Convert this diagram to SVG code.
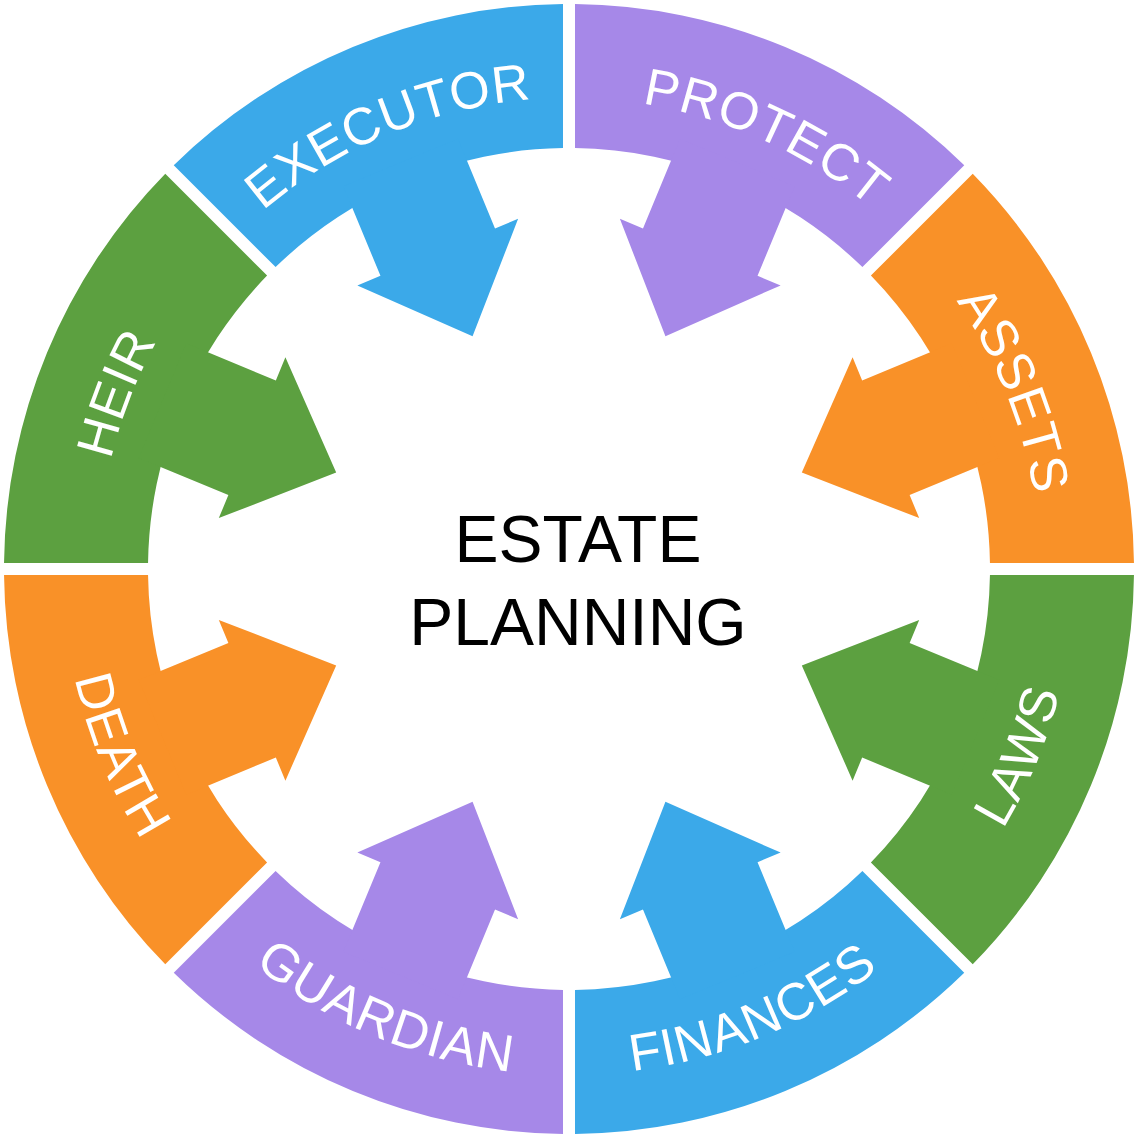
<svg xmlns="http://www.w3.org/2000/svg" xmlns:xlink="http://www.w3.org/1999/xlink" width="1140" height="1140" viewBox="0 0 1140 1140">
<style>
.lbl{font-family:"Liberation Sans",Arial,sans-serif;font-size:52px;fill:#ffffff;letter-spacing:1px}
.ctr{font-family:"Liberation Sans",Arial,sans-serif;font-size:66px;fill:#000000;text-anchor:middle}
.purple{fill:#A688E8}.orange{fill:#F99128}.green{fill:#5CA040}.blue{fill:#3BA9E9}
</style>
<defs>
<path id="seg" d="M575 4.03 A565 565 0 0 1 964.25 165.27 L862.42 267.10 A421 421 0 0 0 575 148.04 Z"/>
<polygon id="arrow" points="665.44,336.18 780.64,285.40 757.54,275.84 794.66,186.22 680.10,138.76 642.98,228.38 619.88,218.82"/>
<path id="arcCW" d="M487.21 105.15 A471 471 0 0 1 954.82 298.84" fill="none"/>
<path id="arcCCW" d="M983.49 278.77 A506 506 0 0 0 481.13 70.69" fill="none"/>
</defs>
<rect width="1140" height="1140" fill="#ffffff"/>
<g id="connectors"></g>
<g id="protect" class="purple" transform="rotate(0 569 569)">
<use xlink:href="#seg"/><use xlink:href="#arrow"/>
<text class="lbl"><textPath xlink:href="#arcCW" startOffset="53%" text-anchor="middle">PROTECT</textPath></text>
</g>
<g id="assets" class="orange" transform="rotate(45 569 569)">
<use xlink:href="#seg"/><use xlink:href="#arrow"/>
<text class="lbl"><textPath xlink:href="#arcCW" startOffset="51%" text-anchor="middle">ASSETS</textPath></text>
</g>
<g id="laws" class="green" transform="rotate(90 569 569)">
<use xlink:href="#seg"/><use xlink:href="#arrow"/>
<text class="lbl"><textPath xlink:href="#arcCCW" startOffset="50%" text-anchor="middle">LAWS</textPath></text>
</g>
<g id="finances" class="blue" transform="rotate(135 569 569)">
<use xlink:href="#seg"/><use xlink:href="#arrow"/>
<text class="lbl"><textPath xlink:href="#arcCCW" startOffset="50%" text-anchor="middle">FINANCES</textPath></text>
</g>
<g id="guardian" class="purple" transform="rotate(180 569 569)">
<use xlink:href="#seg"/><use xlink:href="#arrow"/>
<text class="lbl"><textPath xlink:href="#arcCCW" startOffset="50%" text-anchor="middle">GUARDIAN</textPath></text>
</g>
<g id="death" class="orange" transform="rotate(225 569 569)">
<use xlink:href="#seg"/><use xlink:href="#arrow"/>
<text class="lbl"><textPath xlink:href="#arcCCW" startOffset="50%" text-anchor="middle">DEATH</textPath></text>
</g>
<g id="heir" class="green" transform="rotate(270 569 569)">
<use xlink:href="#seg"/><use xlink:href="#arrow"/>
<text class="lbl"><textPath xlink:href="#arcCW" startOffset="48%" text-anchor="middle">HEIR</textPath></text>
</g>
<g id="executor" class="blue" transform="rotate(315 569 569)">
<use xlink:href="#seg"/><use xlink:href="#arrow"/>
<text class="lbl"><textPath xlink:href="#arcCW" startOffset="50%" text-anchor="middle">EXECUTOR</textPath></text>
</g>
<g id="center">
<text class="ctr" x="578" y="562">ESTATE</text>
<text class="ctr" x="578" y="645">PLANNING</text>
</g>
</svg>
